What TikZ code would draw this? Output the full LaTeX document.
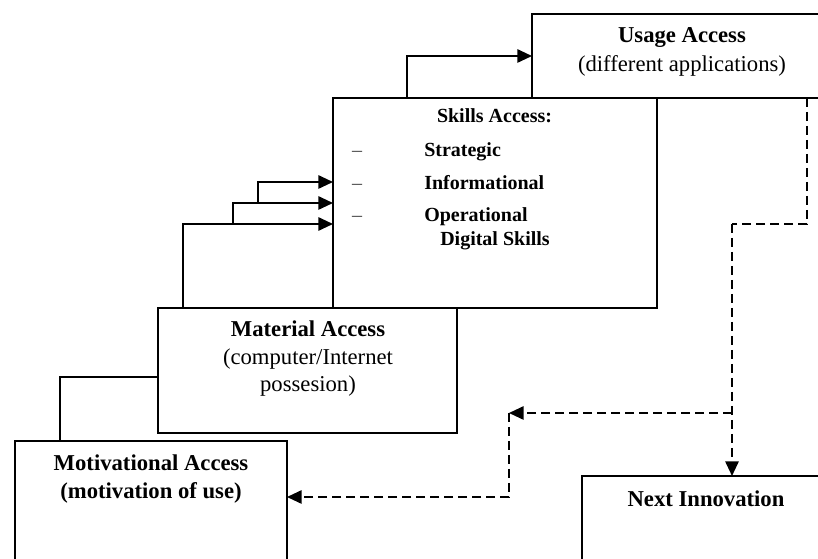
\documentclass[tikz,border=0pt]{standalone}
\usepackage{fontspec}
\setmainfont{Liberation Serif}
\usetikzlibrary{arrows.meta,calc}
\begin{document}
\begin{tikzpicture}[x=0.75pt,y=-0.75pt,
  box/.style={draw, line width=1.4pt, inner sep=0pt, outer sep=0pt, anchor=north west},
  conn/.style={line width=1.4pt},
  arr/.style={conn, -{Triangle[length=11pt,width=10pt]}},
  darr/.style={arr, dash pattern=on 6.5pt off 4pt},
  dline/.style={conn, dash pattern=on 6.5pt off 4pt},
  big/.style={font=\fontsize{17}{21}\selectfont, align=center, inner sep=0pt},
  small/.style={font=\fontsize{15}{18}\selectfont\bfseries, inner sep=0pt, text height=1.5ex, text depth=0.3ex}]
\useasboundingbox (0,0) rectangle (818,559);
\clip (0,0) rectangle (818,559);
% boxes
\node[box, minimum width=225pt, minimum height=63pt] (usage) at (532,14) {};
\node[box, minimum width=243pt, minimum height=157.5pt] (skills) at (333,98) {};
\node[box, minimum width=224.25pt, minimum height=93.75pt] (material) at (158,308) {};
\node[box, minimum width=204pt, minimum height=119.25pt] (motiv) at (15,441) {};
\node[box, minimum width=186pt, minimum height=93pt] (next) at (582,476) {};
% texts
\node[big, font=\fontsize{17}{21.75}\selectfont] (usagetxt) at (682,52) {\textbf{Usage Access}\\(different applications)};
\node[big, font=\fontsize{17}{20.6}\selectfont] (mattxt) at (308,359) {\textbf{Material Access}\\(computer/Internet\\possesion)};
\node[big, font=\fontsize{17}{21}\selectfont\bfseries] (mottxt) at (151,479) {Motivational Access\\(motivation of use)};
\node[big, font=\fontsize{17}{21}\selectfont\bfseries] (nexttxt) at (706,499) {Next Innovation};
\node[small] (skt) at (494.5,119) {Skills Access:};
\node[small, anchor=west] (s1) at (424,153) {Strategic};
\node[small, anchor=west] (s2) at (424,186) {Informational};
\node[small, anchor=west] (s3) at (424,218) {Operational};
\node[small, anchor=west] (s4) at (440,242) {Digital Skills};
\node[small, font=\fontsize{15}{18}\selectfont, text=black!75] (d1) at (357,153) {–};
\node[small, font=\fontsize{15}{18}\selectfont, text=black!75] (d2) at (357,186) {–};
\node[small, font=\fontsize{15}{18}\selectfont, text=black!75] (d3) at (357,218) {–};
% solid connectors
\draw[conn] ($(motiv.north west)+(45,0)$) |- ($(material.west)+(0,6.5)$);
\draw[arr] ($(material.north west)+(25,0)$) |- ($(skills.west)+(0,21)$);
\coordinate (b2) at (233,224);
\draw[arr] (b2) |- (skills.west);
\coordinate (b3) at (258,203);
\draw[arr] (b3) |- ($(skills.west)+(0,-21)$);
\draw[arr] ($(skills.north west)+(74,0)$) |- (usage.west);
% dashed connectors
\coordinate (c1) at (732,224);
\coordinate (c2) at (732,413);
\coordinate (c3) at (509,413);
\draw[dline] ($(usage.south east)+(-25,0)$) |- (c1);
\draw[darr] (c1) -- ($(next.north west)+(150,0)$);
\draw[darr] (c2) -- (c3);
\draw[darr] (c3) |- ($(motiv.north east)+(0,56)$);
\end{tikzpicture}
\end{document}
